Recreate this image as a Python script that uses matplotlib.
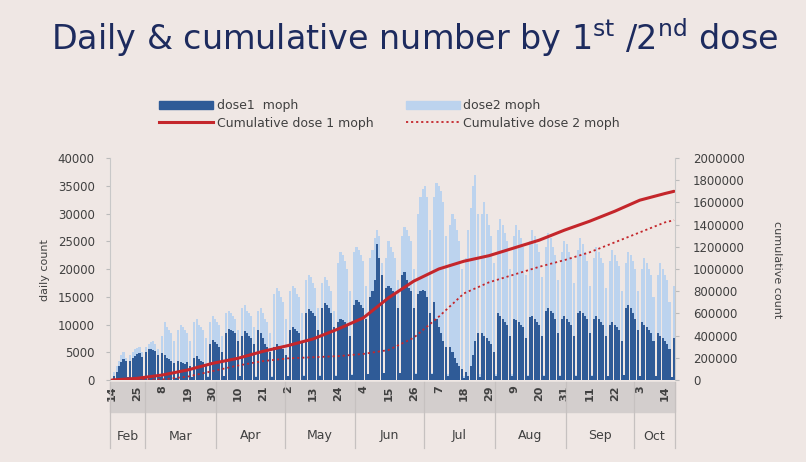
import numpy as np
import matplotlib
matplotlib.use("Agg")
import matplotlib.pyplot as plt
from matplotlib.patches import Patch, Rectangle
from matplotlib.lines import Line2D
from matplotlib.ticker import FuncFormatter
import matplotlib.transforms as mtrans

# daily series, one row per week (Sun..Sat), starting Sun 14 Feb, ending 18 Oct
dose1 = [
    100, 800, 1500, 2500, 3200, 3800, 3500,
    500, 3500, 4000, 4300, 4600, 4800, 4200,
    600, 5000, 5500, 5600, 5400, 5200, 4500,
    500, 4800, 4500, 4000, 3800, 3500, 3000,
    400, 3500, 3300, 3000, 2800, 3200, 2500,
    500, 4000, 4300, 3800, 3500, 3200, 2800,
    600, 6500, 7200, 6800, 6500, 6000, 5000,
    700, 8500, 9200, 9000, 8800, 8500, 7000,
    700, 8000, 8800, 8500, 8000, 7500, 6500,
    600, 9000, 8500, 7500, 6500, 6000, 5000,
    600, 6000, 6500, 6200, 5800, 5500, 4500,
    700, 9000, 9500, 9200, 8800, 8500, 7000,
    800, 12000, 12800, 12500, 12000, 11500, 9000,
    800, 13000, 13800, 13500, 13000, 12000, 9500,
    700, 10500, 11000, 10800, 10500, 10000, 8000,
    900, 13500, 14500, 14000, 13500, 13000, 11000,
    1000, 15000, 16000, 18000, 24500, 22000, 19000,
    1200, 16500, 17000, 16500, 16000, 15500, 13000,
    1200, 19000, 19500, 18000, 16500, 16000, 13000,
    1000, 15500, 16000, 16200, 16000, 15000, 12000,
    1000, 14000, 11000, 9500, 8500, 7000, 6000,
    800, 6000, 5000, 4000, 3000, 2500, 2000,
    300, 1500, 800, 2500, 4500, 7000, 8500,
    500, 8500, 8000, 7500, 7000, 6500, 5000,
    800, 12000, 11500, 11000, 10500, 10000, 8000,
    700, 11000, 10800, 10500, 10000, 9500, 7500,
    700, 11400, 11500, 11000, 10500, 10000, 8000,
    800, 12500, 13000, 12500, 12000, 11000, 8500,
    700, 11000, 11500, 11000, 10500, 10000, 8000,
    800, 12000, 12500, 12000, 11500, 11000, 8500,
    700, 11000, 11500, 11000, 10500, 10000, 8000,
    700, 10000, 10500, 10000, 9500, 9000, 7000,
    900, 13000, 13500, 13000, 12000, 11000, 9000,
    800, 10500, 10000, 9500, 9000, 8500, 7000,
    700, 8500, 8000, 7500, 7000, 6500, 5500,
    600, 7500,
]
dose2 = [
    100, 1500, 2500, 3500, 4500, 5000, 4000,
    500, 4500, 5000, 5500, 5800, 6000, 5000,
    600, 6000, 6500, 6800, 7000, 6500, 5500,
    600, 8000, 10500, 9500, 9000, 8500, 7000,
    500, 9000, 10000, 9500, 9000, 8500, 7000,
    600, 10500, 11000, 10000, 9500, 9000, 7500,
    700, 10500, 11500, 11000, 10500, 10000, 8000,
    800, 12000, 12500, 12000, 11500, 11000, 9000,
    800, 13000, 13500, 12500, 12000, 11500, 9500,
    700, 12500, 13000, 12000, 11000, 10500, 8500,
    700, 15500, 16500, 16000, 15000, 14000, 11000,
    800, 16000, 17000, 16500, 15500, 15000, 12000,
    900, 18000, 19000, 18500, 17500, 16500, 13000,
    900, 17500, 18500, 18000, 17000, 16000, 12500,
    900, 21000, 23000, 22500, 21500, 20000, 16000,
    1000, 23000, 24000, 23500, 22500, 21500, 17000,
    1000, 22000, 23500, 25500, 27000, 26000, 21000,
    1200, 22000, 25000, 24000, 23000, 22000, 18000,
    1200, 26000, 27500, 27000, 26000, 25000, 20000,
    1200, 30000, 33000, 34500, 35000, 33000, 27000,
    1200, 33000, 35500, 35000, 34000, 32000, 26000,
    1000, 28000, 30000, 29000, 27000, 25000, 20000,
    800, 22000, 27000, 31000, 35000, 37000, 30000,
    1000, 30000, 32000, 30000, 28000, 26000, 21000,
    1000, 27000, 29000, 28000, 26500, 25000, 20000,
    1000, 26000, 28000, 27000, 25500, 24000, 19000,
    900, 25000, 27000, 26000, 24500, 23000, 18500,
    900, 24000, 26500, 25500, 24000, 22500, 18000,
    900, 23000, 25000, 24500, 23000, 22000, 17500,
    900, 23500, 25500, 24500, 23000, 21500, 17000,
    900, 22000, 24000, 23000, 22000, 21000, 16500,
    800, 21500, 23500, 22500, 21500, 20500, 16000,
    900, 21000, 23000, 22500, 21500, 20000, 16000,
    800, 20000, 22000, 21000, 20000, 19000, 15000,
    700, 19000, 21000, 20000, 19000, 18000, 14000,
    600, 17000,
]

# cumulative counts read at the labelled days
cum_days = [0, 11, 22, 33, 44, 55, 66, 77, 88, 99, 110, 121, 132, 143, 154,
            165, 176, 187, 198, 209, 220, 231, 242, 246]
cum1 = [0, 15000, 45000, 90000, 150000, 195000, 258000, 310000, 370000, 460000,
        560000, 740000, 890000, 1000000, 1070000, 1120000, 1190000, 1260000,
        1350000, 1430000, 1520000, 1620000, 1680000, 1700000]
cum2 = [0, 0, 5000, 30000, 80000, 130000, 170000, 195000, 205000, 215000,
        235000, 270000, 380000, 570000, 780000, 880000, 950000, 1020000,
        1080000, 1150000, 1240000, 1330000, 1420000, 1440000]

day_labels = ["14", "25", "8", "19", "30", "10", "21", "2", "13", "24", "4", "15",
              "26", "7", "18", "29", "9", "20", "31", "11", "22", "3", "14"]
months = ["Feb", "Mar", "Apr", "May", "Jun", "Jul", "Aug", "Sep", "Oct"]
month_start = [0, 15, 46, 76, 107, 137, 168, 199, 229]

bg = "#efe7e4"
dark = "#2f5b97"
light = "#bcd3ee"
red = "#c4262b"
txt = "#404040"

plt.rcParams["font.family"] = ["DejaVu Sans"]

fig = plt.figure(figsize=(8.06, 4.62), dpi=100, facecolor=bg)
ax = fig.add_axes([110 / 806, 1 - 380 / 462, 565 / 806, 222 / 462])
ax.set_facecolor(bg)

n = len(dose1)
x = np.arange(n)
ax.bar(x, dose2, width=0.9, color=light, zorder=1)
ax.bar(x, dose1, width=0.9, color=dark, zorder=2)
ax.set_xlim(-0.9, n - 0.6)
ax.set_ylim(0, 40000)
ax.set_yticks(np.arange(0, 40001, 5000))
ax.tick_params(axis="y", labelsize=8.5, colors="#bbbbbb", labelcolor=txt,
               length=3, width=0.8, pad=8)
ax.set_xticks(cum_days[:-1])
ax.set_xticklabels(day_labels, rotation=90, fontsize=8, fontweight="bold", color=txt)
ax.tick_params(axis="x", length=0, pad=4)
for s in ["top", "right", "bottom"]:
    ax.spines[s].set_visible(False)
ax.spines["left"].set_color("#c8c8c8")

# gray band behind day labels and month row below
hpx = 222.0
ax.add_patch(Rectangle((0, -32 / hpx), 1, 30 / hpx, transform=ax.transAxes,
                       clip_on=False, color="#d3cecd", zorder=0))
blend = mtrans.blended_transform_factory(ax.transData, ax.transAxes)
edges = [-0.9] + [m - 0.5 for m in month_start[1:]] + [n - 0.6]
for e in edges:
    ax.plot([e, e], [-2 / hpx, -68 / hpx], transform=blend, clip_on=False,
            color="#c6c1c0", lw=0.9)
for i, m in enumerate(months):
    ax.text((edges[i] + edges[i + 1]) / 2, -56 / hpx, m, transform=blend,
            ha="center", va="center", fontsize=9, color=txt)

ax2 = ax.twinx()
ax2.plot(cum_days, cum1, color=red, lw=2.2, solid_capstyle="round")
ax2.plot(cum_days, cum2, color=red, lw=1.3, linestyle=(0, (1.2, 1.6)))
ax2.set_ylim(0, 2000000)
ax2.set_yticks(np.arange(0, 2000001, 200000))
ax2.yaxis.set_major_formatter(FuncFormatter(lambda v, p: "%d" % int(round(v))))
ax2.tick_params(axis="y", labelsize=8.5, colors="#bbbbbb", labelcolor=txt,
                length=3, width=0.8, pad=10)
for s in ["top", "left", "bottom"]:
    ax2.spines[s].set_visible(False)
ax2.spines["right"].set_color("#c8c8c8")

fig.text(45 / 806, 1 - 270 / 462, "daily count", rotation=90, ha="center",
         va="center", fontsize=8, color=txt)
fig.text(777 / 806, 1 - 270 / 462, "cumulative count", rotation=270, ha="center",
         va="center", fontsize=8, color=txt)

fig.text(415 / 806, 1 - 38 / 462,
         r"Daily & cumulative number by 1$^{\rm st}$ /2$^{\rm nd}$ dose",
         ha="center", va="center", fontsize=24, color="#1d2b5e")

handles = [Patch(color=dark), Line2D([], [], color=red, lw=2.2),
           Patch(color=light), Line2D([], [], color=red, lw=1.3, linestyle=(0, (1.2, 1.6)))]
labels = ["dose1  moph", "Cumulative dose 1 moph", "dose2 moph", "Cumulative dose 2 moph"]
fig.legend(handles, labels, ncol=2, loc="upper left",
           bbox_to_anchor=(148 / 806, 1 - 88 / 462), frameon=False, fontsize=9,
           handlelength=4.3, handleheight=0.6, handletextpad=0.3,
           columnspacing=2.6, labelspacing=0.35, labelcolor=txt)

fig.savefig("out.png", dpi=100, facecolor=bg)
